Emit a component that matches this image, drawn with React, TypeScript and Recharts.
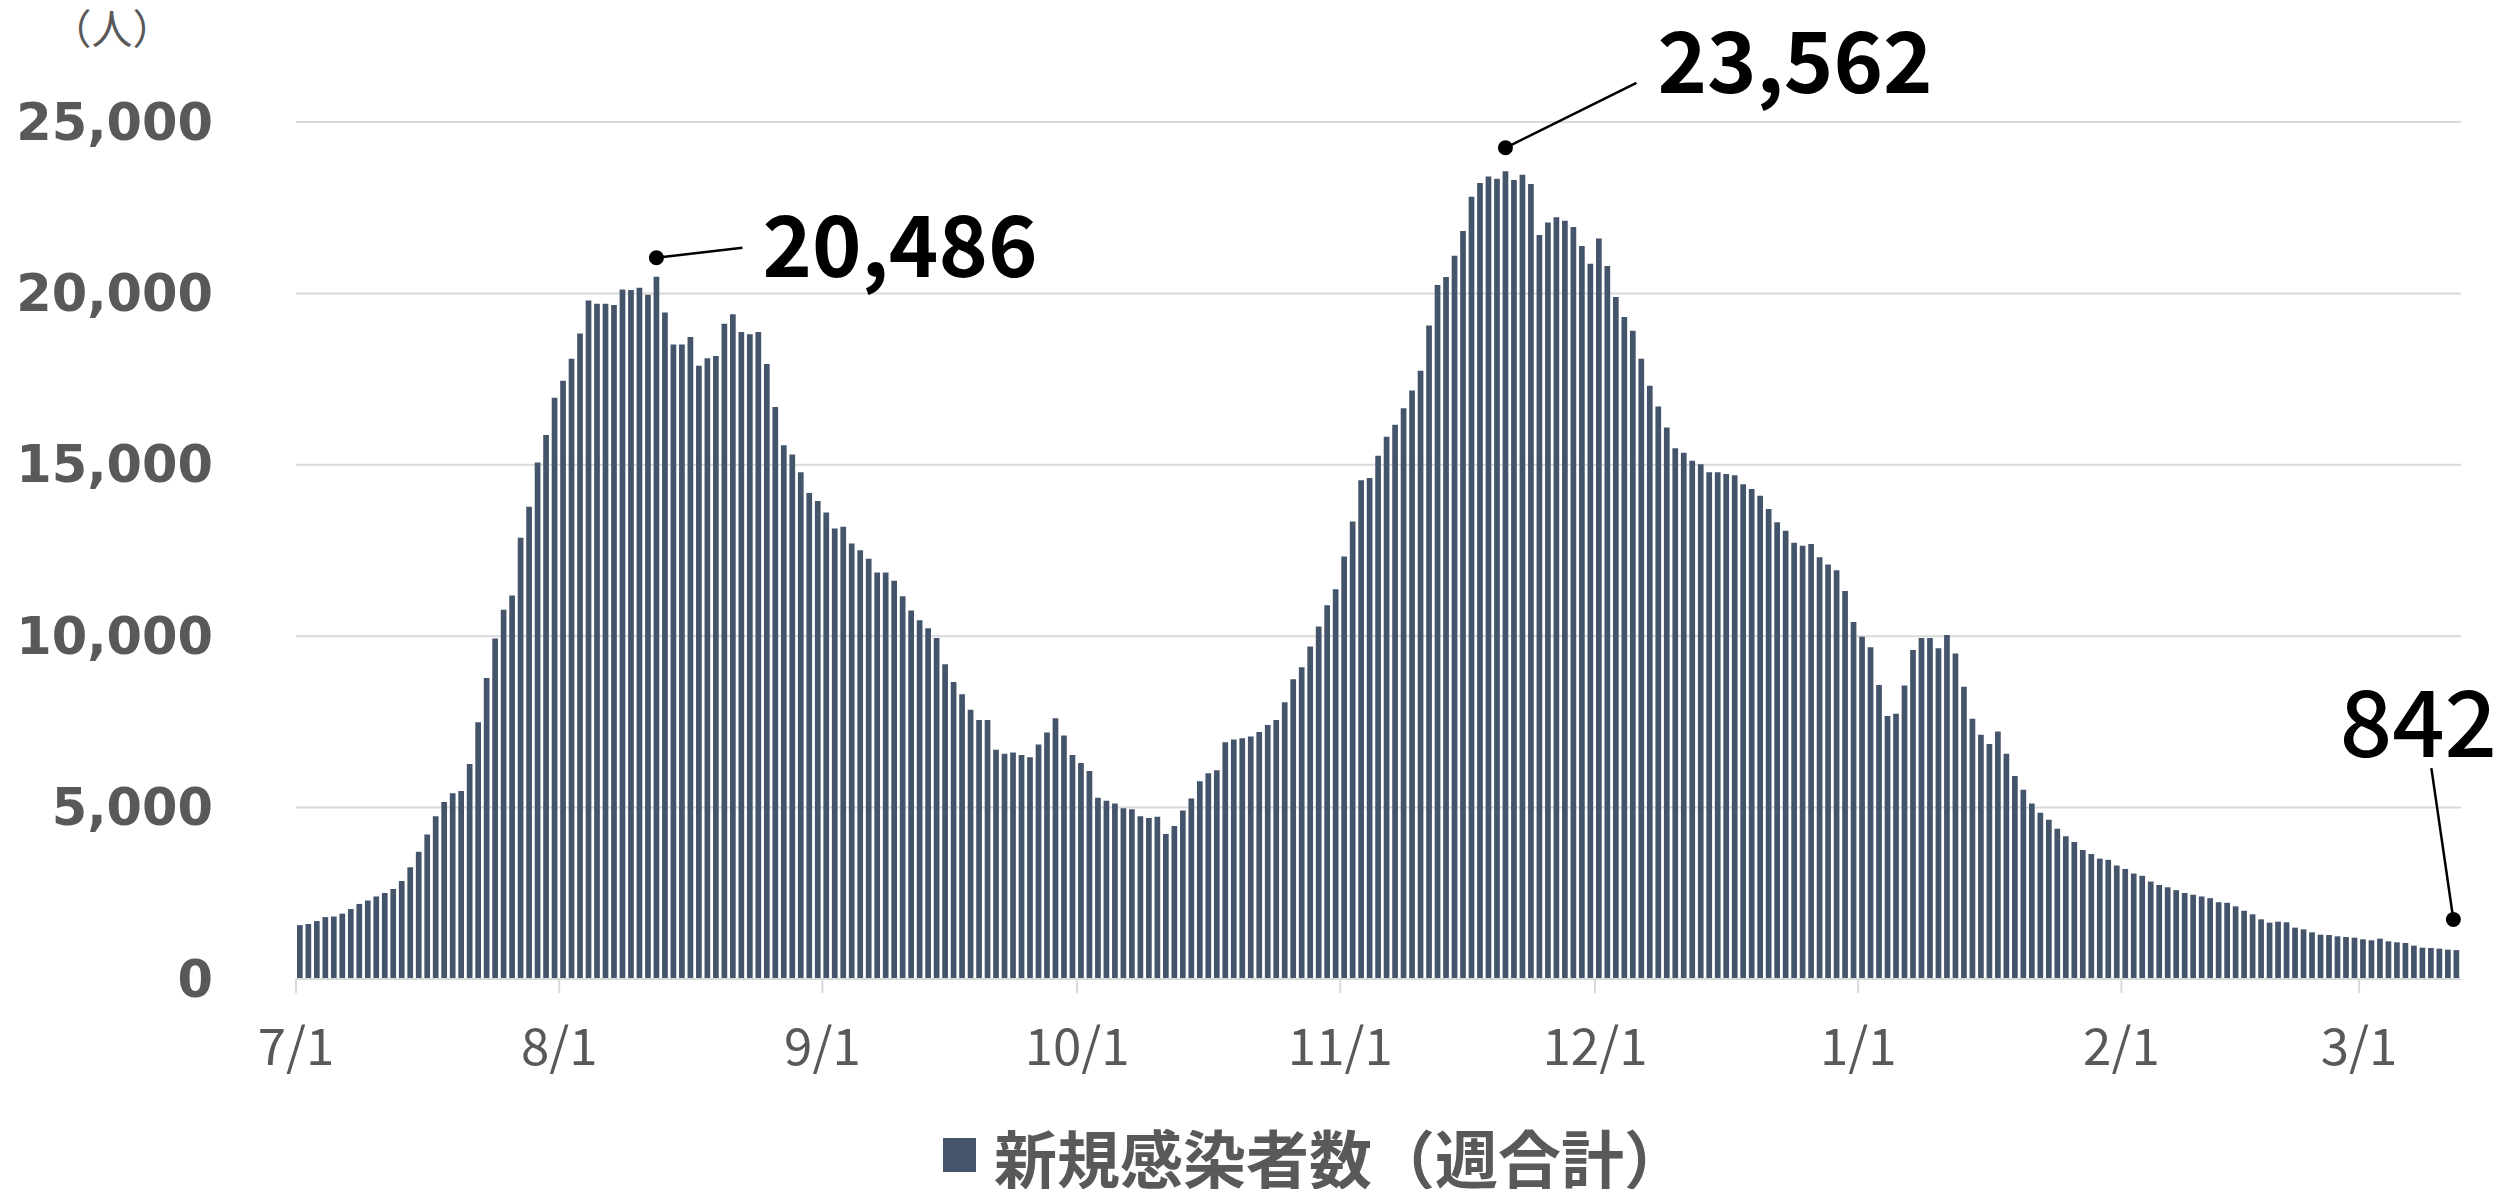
import React from 'react';
import { BarChart, Bar, XAxis, YAxis, CartesianGrid, Legend, LabelList } from 'recharts';

// Daily weekly-total new cases, by month (7/1 .. 3/12)
const julValues = [1572, 1605, 1689, 1806, 1822, 1906, 2040, 2190, 2290, 2408, 2508, 2625, 2859, 3260, 3712, 4213, 4748, 5166, 5417, 5484, 6270, 7490, 8778, 9932, 10768, 11186, 12874, 13777, 15065, 15867, 16954];
const augValues = [17450, 18091, 18827, 19796, 19696, 19696, 19663, 20114, 20097, 20164, 19964, 20486, 19445, 18509, 18509, 18726, 17890, 18108, 18175, 19111, 19395, 18877, 18810, 18877, 17941, 16687, 15567, 15299, 14780, 14179, 13944];
const sepValues = [13610, 13142, 13192, 12707, 12506, 12256, 11855, 11855, 11620, 11169, 10751, 10467, 10233, 9948, 9179, 8661, 8310, 7858, 7557, 7557, 6688, 6571, 6604, 6537, 6471, 6838, 7190, 7608, 7106, 6537];
const octValues = [6303, 6069, 5284, 5200, 5116, 4983, 4949, 4748, 4698, 4732, 4230, 4464, 4916, 5267, 5768, 6003, 6086, 6905, 6989, 7022, 7073, 7206, 7407, 7557, 8076, 8745, 9096, 9698, 10283, 10901, 11370];
const novValues = [12323, 13343, 14546, 14613, 15265, 15817, 16168, 16653, 17171, 17740, 19061, 20248, 20482, 21101, 21820, 22823, 23224, 23408, 23341, 23562, 23308, 23458, 23191, 21703, 22071, 22221, 22121, 21937, 21385, 20867];
const decValues = [21603, 20800, 19897, 19312, 18911, 18091, 17305, 16703, 16085, 15483, 15349, 15115, 15015, 14780, 14780, 14730, 14697, 14429, 14296, 14095, 13710, 13326, 13075, 12724, 12640, 12690, 12306, 12089, 11921, 11319, 10417];
const janValues = [9982, 9681, 8577, 7674, 7741, 8561, 9597, 9948, 9948, 9647, 10032, 9497, 8527, 7591, 7123, 6855, 7223, 6571, 5919, 5518, 5116, 4849, 4648, 4381, 4163, 3996, 3762, 3645, 3511, 3478, 3311];
const febValues = [3210, 3077, 3010, 2842, 2742, 2675, 2592, 2508, 2458, 2408, 2358, 2240, 2224, 2120, 1990, 1887, 1741, 1644, 1673, 1654, 1498, 1449, 1362, 1294, 1284, 1245, 1226, 1206];
const marValues = [1158, 1128, 1177, 1099, 1070, 1051, 973, 914, 905, 885, 856, 842];

const monthSeries = [
  { month: 7, values: julValues },
  { month: 8, values: augValues },
  { month: 9, values: sepValues },
  { month: 10, values: octValues },
  { month: 11, values: novValues },
  { month: 12, values: decValues },
  { month: 1, values: janValues },
  { month: 2, values: febValues },
  { month: 3, values: marValues },
];

const monthTicks = ['7/1', '8/1', '9/1', '10/1', '11/1', '12/1', '1/1', '2/1', '3/1'];
const yTicks = [0, 5000, 10000, 15000, 20000, 25000];
const calloutDates = ['8/12', '11/20', '3/12'];
const seriesName = '新規感染者数（週合計）';
const unitLabel = '（人）';

const data = monthSeries.flatMap(({ month, values }) =>
  values.map((value, i) => ({ date: `${month}/${i + 1}`, value }))
);

const BAR_COLOR = '#44546A';
const GRID = '#D9D9D9';
const TEXT_GRAY = '#595959';
const CJK = '"Noto Sans CJK JP", "Noto Sans", sans-serif';

// callout styling offsets relative to bar top-center
const calloutStyle: Record<string, any> = {
  '8/12': { dot: [0, -19], end: [86, -29], text: [106, 0], anchor: 'start', size: 84, weight: 700 },
  '11/20': { dot: [0, -23.5], end: [131, -88.5], text: [152, -78.5], anchor: 'start', size: 84, weight: 700 },
  '3/12': { dot: [-3, -30.6], end: [-25, -182], text: [-38, -193], anchor: 'middle', size: 92, weight: 500 },
};

const Callout = (props: any) => {
  const { index } = props;
  const entry = data[index];
  if (!entry || !calloutDates.includes(entry.date)) return null;
  const s = calloutStyle[entry.date];
  const vb = props.viewBox || {};
  const x = vb.x ?? props.x;
  const y = vb.y ?? props.y;
  const w = vb.width ?? props.width;
  const cx = x + w / 2;
  const top = y;
  const label = Number(entry.value).toLocaleString('en-US');
  return (
    <g>
      <line x1={cx + s.dot[0]} y1={top + s.dot[1]} x2={cx + s.end[0]} y2={top + s.end[1]} stroke="#000" strokeWidth={2.5} />
      <circle cx={cx + s.dot[0]} cy={top + s.dot[1]} r={7.5} fill="#000" />
      <text x={cx + s.text[0]} y={top + s.text[1]} textAnchor={s.anchor} fontFamily={CJK} fontSize={s.size} fontWeight={s.weight} fill="#000">
        {label}
      </text>
    </g>
  );
};

const XTick = (props: any) => {
  const { x, y, payload } = props;
  const half = payload && typeof payload.offset === 'number' ? payload.offset : 4.245;
  const left = x - half;
  return (
    <g>
      <line x1={left} x2={left} y1={y} y2={y + 14} stroke={GRID} strokeWidth={2} />
      <text x={left} y={y + 64} textAnchor="middle" dominantBaseline="central" fontFamily={CJK} fontSize={51} fill={TEXT_GRAY}>
        {payload.value}
      </text>
    </g>
  );
};

const YTick = (props: any) => {
  const { x, y, payload } = props;
  return (
    <text x={x} y={y} textAnchor="end" dominantBaseline="central" fontFamily='"DejaVu Sans", sans-serif' fontWeight={700} fontSize={51} fill={TEXT_GRAY}>
      {Number(payload.value).toLocaleString('en-US')}
    </text>
  );
};

const UnitLabel = (props: any) => {
  const vb = props.viewBox || { x: 0, y: 122 };
  return (
    <text x={112} y={vb.y - 78} textAnchor="middle" fontFamily={CJK} fontSize={41} fill={TEXT_GRAY}>
      {unitLabel}
    </text>
  );
};

const LegendContent = () => (
  <div style={{ display: 'flex', alignItems: 'center', height: 76, paddingLeft: 943, boxSizing: 'border-box' }}>
    <span style={{ display: 'inline-block', width: 33, height: 34, background: BAR_COLOR, marginRight: 18 }} />
    <span style={{ fontFamily: CJK, fontSize: 63, fontWeight: 700, color: TEXT_GRAY, lineHeight: 1, whiteSpace: 'nowrap' }}>
      {seriesName}
    </span>
  </div>
);

export default function App() {
  return (
    <div style={{ position: 'absolute', left: 0, top: 0, width: 2506, height: 1189, background: '#fff' }}>
      <BarChart width={2506} height={1189} data={data} margin={{ top: 122, right: 45, left: 0, bottom: 130 }}>
        <CartesianGrid vertical={false} stroke={GRID} strokeWidth={2} />
        <XAxis
          dataKey="date"
          type="category"
          ticks={monthTicks}
          interval={0}
          height={80}
          tickSize={0}
          tickMargin={0}
          tickLine={false}
          axisLine={{ stroke: GRID, strokeWidth: 2 }}
          tick={<XTick />}
        />
        <YAxis
          domain={[0, 25000]}
          ticks={yTicks}
          width={296}
          axisLine={false}
          tickLine={false}
          tickSize={0}
          tickMargin={83}
          tick={<YTick />}
          label={<UnitLabel />}
        />
        <Legend
          layout="horizontal"
          verticalAlign="middle"
          align="center"
          wrapperStyle={{ top: 1117, left: 0, width: 2506, height: 76 }}
          content={<LegendContent />}
        />
        <Bar dataKey="value" name={seriesName} fill={BAR_COLOR} barSize={5.7} isAnimationActive={false}>
          <LabelList dataKey="value" content={<Callout />} />
        </Bar>
      </BarChart>
    </div>
  );
}
